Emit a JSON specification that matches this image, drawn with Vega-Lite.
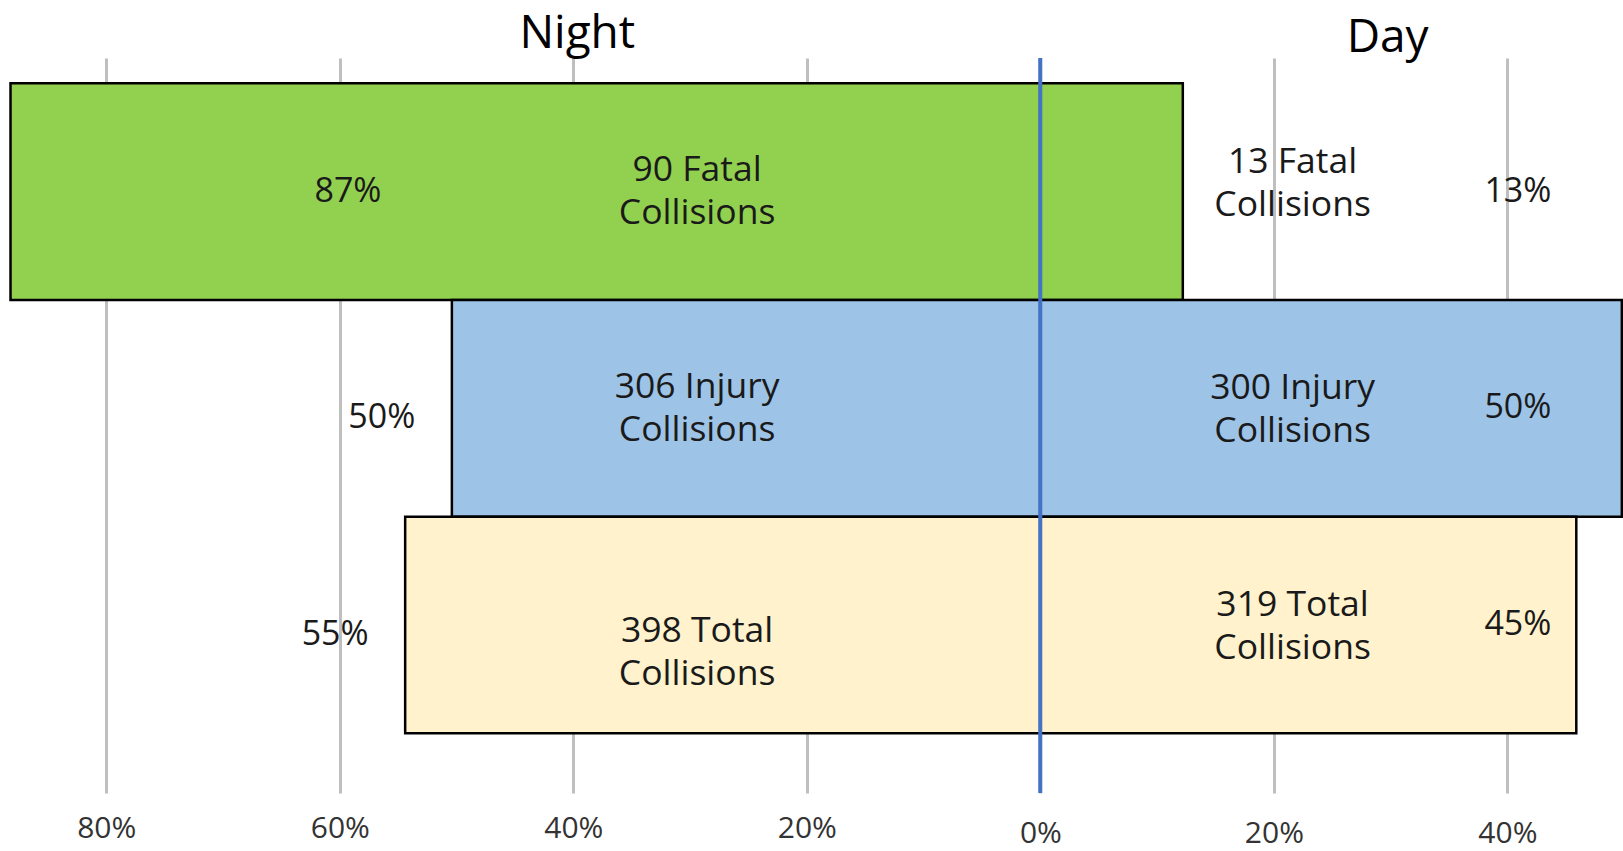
{
  "$schema": "https://vega.github.io/schema/vega-lite/v6.json",
  "width": 1623,
  "height": 735,
  "autosize": {"type": "none"},
  "padding": {"top": 58, "bottom": 58, "left": 0, "right": 0},
  "background": "white",
  "config": {"view": {"stroke": null}, "font": "Open Sans"},
  "data": {"values": [
    {"type": "Fatal", "night": -88.2, "day": 12.2, "night_pct": "87%", "day_pct": "13%", "night_text": "90 Fatal\nCollisions", "day_text": "13 Fatal\nCollisions"},
    {"type": "Injury", "night": -50.4, "day": 49.8, "night_pct": "50%", "day_pct": "50%", "night_text": "306 Injury\nCollisions", "day_text": "300 Injury\nCollisions"},
    {"type": "Total", "night": -54.4, "day": 45.9, "night_pct": "55%", "day_pct": "45%", "night_text": "398 Total\nCollisions", "day_text": "319 Total\nCollisions"}
  ]},
  "encoding": {
    "y": {"field": "type", "type": "nominal", "scale": {"domain": ["Fatal", "Injury", "Total"], "paddingInner": 0, "paddingOuter": 0.196, "align": 0.298}, "axis": null}
  },
  "resolve": {"axis": {"x": "independent"}},
  "layer": [
    {
      "mark": {"type": "bar", "stroke": "black", "strokeWidth": 2.5},
      "encoding": {
        "x": {"field": "night", "type": "quantitative", "scale": {"domain": [-89.1, 49.9], "nice": false, "zero": false},
          "axis": {"orient": "bottom", "values": [-80, -60, -40, -20], "labelExpr": "abs(datum.value) + '%'", "grid": true, "gridColor": "#BFBFBF", "gridWidth": 3, "domain": false, "ticks": false, "tickSize": 0, "labelPadding": 35, "labelBaseline": "middle", "labelFontSize": 30, "labelColor": "#333333", "labelFlush": false, "labelOverlap": false, "title": null}},
        "x2": {"field": "day"},
        "color": {"field": "type", "type": "nominal", "scale": {"domain": ["Fatal", "Injury", "Total"], "range": ["#92D050", "#9DC3E6", "#FFF2CC"]}, "legend": null}
      }
    },
    {
      "mark": {"type": "rule", "color": "#4472C4", "strokeWidth": 3.5},
      "encoding": {
        "x": {"datum": 0, "type": "quantitative",
          "axis": {"orient": "bottom", "values": [0, 20, 40], "labelExpr": "abs(datum.value) + '%'", "grid": true, "gridColor": "#BFBFBF", "gridWidth": 3, "domain": false, "ticks": false, "tickSize": 0, "labelPadding": 40, "labelBaseline": "middle", "labelFontSize": 30, "labelColor": "#333333", "labelFlush": false, "labelOverlap": false, "title": null}},
        "y": null
      }
    },
    {
      "transform": [{"filter": "datum.type !== 'Total'"}],
      "mark": {"type": "text", "fontSize": 35.5, "color": "#1a1a1a", "lineBreak": "\n", "lineHeight": 43, "align": "center", "baseline": "middle", "dy": -21.5},
      "encoding": {"x": {"datum": -29.4, "type": "quantitative",
          "axis": {"orient": "top", "values": [-39.7], "labelExpr": "'Night'", "grid": false, "domain": false, "ticks": false, "tickSize": 0, "labelPadding": 11, "labelBaseline": "alphabetic", "labelFontSize": 46, "labelColor": "black", "labelFlush": false, "labelOverlap": false, "title": null}},
        "text": {"field": "night_text"}}
    },
    {
      "transform": [{"filter": "datum.type === 'Total'"}],
      "mark": {"type": "text", "fontSize": 35.5, "color": "#1a1a1a", "lineBreak": "\n", "lineHeight": 43, "align": "center", "baseline": "middle", "dy": 6},
      "encoding": {"x": {"datum": -29.4, "type": "quantitative", "axis": null}, "text": {"field": "night_text"}}
    },
    {
      "transform": [{"filter": "datum.type !== 'Fatal'"}],
      "mark": {"type": "text", "fontSize": 35.5, "color": "#1a1a1a", "lineBreak": "\n", "lineHeight": 43, "align": "center", "baseline": "middle", "dy": -20},
      "encoding": {"x": {"datum": 21.6, "type": "quantitative",
          "axis": {"orient": "top", "values": [29.7], "labelExpr": "'Day'", "grid": false, "domain": false, "ticks": false, "tickSize": 0, "labelPadding": 7, "labelBaseline": "alphabetic", "labelFontSize": 46, "labelColor": "black", "labelFlush": false, "labelOverlap": false, "title": null}},
        "text": {"field": "day_text"}}
    },
    {
      "transform": [{"filter": "datum.type === 'Fatal'"}],
      "mark": {"type": "text", "fontSize": 35.5, "color": "#1a1a1a", "lineBreak": "\n", "lineHeight": 43, "align": "center", "baseline": "middle", "dy": -30},
      "encoding": {"x": {"datum": 21.6, "type": "quantitative", "axis": null}, "text": {"field": "day_text"}}
    },
    {
      "transform": [{"filter": "datum.type === 'Fatal'"}],
      "mark": {"type": "text", "fontSize": 34, "color": "#1a1a1a", "align": "center", "baseline": "middle"},
      "encoding": {"x": {"datum": -59.3, "type": "quantitative", "axis": null}, "text": {"field": "night_pct"}}
    },
    {
      "transform": [{"filter": "datum.type !== 'Fatal'"}],
      "mark": {"type": "text", "fontSize": 34, "color": "#1a1a1a", "align": "center", "baseline": "middle", "dx": -70, "dy": 10},
      "encoding": {"x": {"field": "night", "type": "quantitative", "axis": null}, "text": {"field": "night_pct"}}
    },
    {
      "mark": {"type": "text", "fontSize": 34, "color": "#1a1a1a", "align": "center", "baseline": "middle"},
      "encoding": {"x": {"datum": 40.9, "type": "quantitative", "axis": null}, "text": {"field": "day_pct"}}
    }
  ]
}
